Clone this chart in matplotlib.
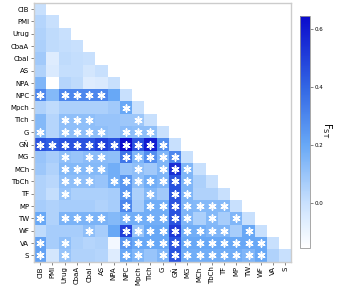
#!/usr/bin/env python3

import numpy as np
import matplotlib
matplotlib.use('Agg')
import matplotlib.pyplot as plt
from matplotlib.colors import LinearSegmentedColormap

labels = ['ClB', 'PMI', 'Urug', 'CbaA', 'CbaI', 'AS', 'NPA', 'NPC', 'Mpch', 'Tlch', 'G',
          'GÑ', 'MG', 'MCh', 'TbCh', 'TF', 'MP', 'TW', 'WF', 'VA', 'S']

# pairwise FST, lower triangle (row i has i+1 values, diagonal last)
fst_rows = [
  [0.0],
  [0.04, 0.0],
  [0.05, 0.02, 0.0],
  [0.06, 0.02, 0.01, 0.0],
  [0.08, -0.06, 0.02, 0.01, 0.0],
  [0.05, -0.05, 0.01, 0.01, -0.03, 0.0],
  [0.15, -0.155, 0.04, 0.02, -0.06, -0.05, 0.0],
  [0.30, 0.14, 0.30, 0.30, 0.30, 0.30, 0.20, 0.0],
  [0.05, 0.02, 0.06, 0.06, 0.06, 0.06, 0.08, 0.20, 0.0],
  [0.14, 0.04, 0.12, 0.12, 0.12, 0.10, 0.10, 0.09, 0.09, 0.0],
  [0.14, 0.04, 0.12, 0.12, 0.12, 0.12, 0.10, 0.13, 0.12, 0.12, 0.0],
  [0.45, 0.42, 0.45, 0.45, 0.45, 0.50, 0.45, 0.647, 0.45, 0.60, 0.28, 0.0],
  [0.10, 0.07, 0.12, 0.10, 0.13, 0.13, 0.12, 0.35, 0.15, 0.28, 0.15, 0.30, 0.0],
  [0.09, 0.05, 0.14, 0.14, 0.14, 0.14, 0.18, 0.10, 0.12, 0.08, 0.15, 0.55, 0.15, 0.0],
  [0.05, 0.03, 0.12, 0.12, 0.12, 0.10, 0.18, 0.25, 0.12, 0.18, 0.15, 0.45, 0.15, 0.06, 0.0],
  [0.05, 0.01, 0.10, 0.06, 0.06, 0.06, 0.07, 0.25, 0.06, 0.14, 0.08, 0.45, 0.15, 0.05, 0.05, 0.0],
  [0.07, 0.05, 0.07, 0.07, 0.07, 0.05, 0.07, 0.30, 0.07, 0.18, 0.18, 0.45, 0.15, 0.14, 0.14, 0.14, 0.0],
  [0.20, 0.05, 0.16, 0.16, 0.16, 0.16, 0.14, 0.18, 0.18, 0.18, 0.18, 0.45, 0.15, 0.06, 0.14, 0.07, 0.15, 0.0],
  [0.02, 0.07, 0.07, 0.07, 0.12, 0.07, 0.20, 0.50, 0.10, 0.20, 0.20, 0.52, 0.18, 0.18, 0.15, 0.15, 0.07, 0.20, 0.0],
  [0.22, 0.07, 0.12, 0.06, 0.04, 0.05, -0.12, 0.25, 0.20, 0.20, 0.20, 0.45, 0.20, 0.20, 0.20, 0.20, 0.20, 0.20, 0.20, 0.0],
  [0.22, -0.03, 0.10, 0.05, 0.05, 0.04, -0.06, 0.20, 0.15, 0.10, 0.15, 0.45, 0.18, 0.18, 0.18, 0.18, 0.18, 0.15, 0.20, 0.05, 0.0],
]

# columns with a significant FST, per row
sig_cols = [
  [], [], [], [], [], [], [],
  [0, 2, 3, 4, 5],
  [7],
  [2, 3, 4, 8],
  [0, 2, 3, 4, 5, 7, 8, 9],
  [0, 1, 2, 3, 4, 5, 6, 7, 8, 9, 10],
  [2, 4, 5, 7, 8, 9, 10, 11],
  [2, 3, 4, 5, 8, 10, 11, 12],
  [2, 3, 4, 6, 7, 8, 9, 10, 11, 12],
  [2, 7, 9, 11, 12],
  [7, 9, 10, 11, 12, 13, 14, 15],
  [0, 2, 3, 4, 5, 7, 8, 9, 10, 11, 12, 14, 16],
  [4, 7, 8, 9, 10, 11, 12, 13, 14, 15, 17],
  [0, 2, 7, 8, 9, 10, 11, 12, 13, 14, 15, 16, 17, 18],
  [0, 2, 7, 8, 10, 11, 12, 13, 14, 15, 16, 17, 18],
]

cbar_ticks = [0.0, 0.2, 0.4, 0.6]

n = len(labels)
fst = np.full((n, n), np.nan)
for i, row in enumerate(fst_rows):
  fst[i, :len(row)] = row
fst = np.ma.masked_invalid(fst)
vmin, vmax = fst.min(), fst.max()

cmap = LinearSegmentedColormap.from_list('fstblue', [
  (0.0, '#ffffff'),
  ((0.0 - vmin) / (vmax - vmin), '#c8e0fd'),
  ((0.2 - vmin) / (vmax - vmin), '#68a8f6'),
  ((0.4 - vmin) / (vmax - vmin), '#3266e4'),
  (1.0, '#0a0acc')])

fig = plt.figure(figsize=(3.38, 2.88), dpi=100)
ax = fig.add_axes([0.1006, 0.092, 0.7618, 0.8976])
cax = fig.add_axes([0.8876, 0.140, 0.0296, 0.8055])

mesh = ax.pcolormesh(np.arange(n + 1), np.arange(n + 1), fst, cmap=cmap, vmin=vmin, vmax=vmax)

sx, sy = [], []
for i, cols in enumerate(sig_cols):
  for j in cols:
    sx.append(j + 0.5)
    sy.append(i + 0.5)
ax.scatter(sx, sy, marker=(6, 2, 0), s=26, c='white', linewidths=1.1, zorder=3)

ax.set_xlim(0, n)
ax.set_ylim(n, 0)
ax.set_xticks(np.arange(n) + 0.5)
ax.set_yticks(np.arange(n) + 0.5)
ax.set_xticklabels(labels, rotation=90, fontsize=5)
ax.set_yticklabels(labels, fontsize=5)
ax.tick_params(length=2, width=0.5, color='#555555', pad=1.5)
for s in ax.spines.values():
  s.set_color('#cccccc')
  s.set_linewidth(1.0)

cb = fig.colorbar(mesh, cax=cax, ticks=cbar_ticks)
cb.ax.tick_params(labelsize=4, length=2, width=0.5, color='#555555', pad=1.5)
cb.outline.set_edgecolor('#999999')
cb.outline.set_linewidth(0.6)
fig.text(0.968, 0.55, r'$\mathrm{F_{ST}}$', fontsize=7, rotation=270, ha='center', va='center')

fig.savefig('out.png', dpi=100)
